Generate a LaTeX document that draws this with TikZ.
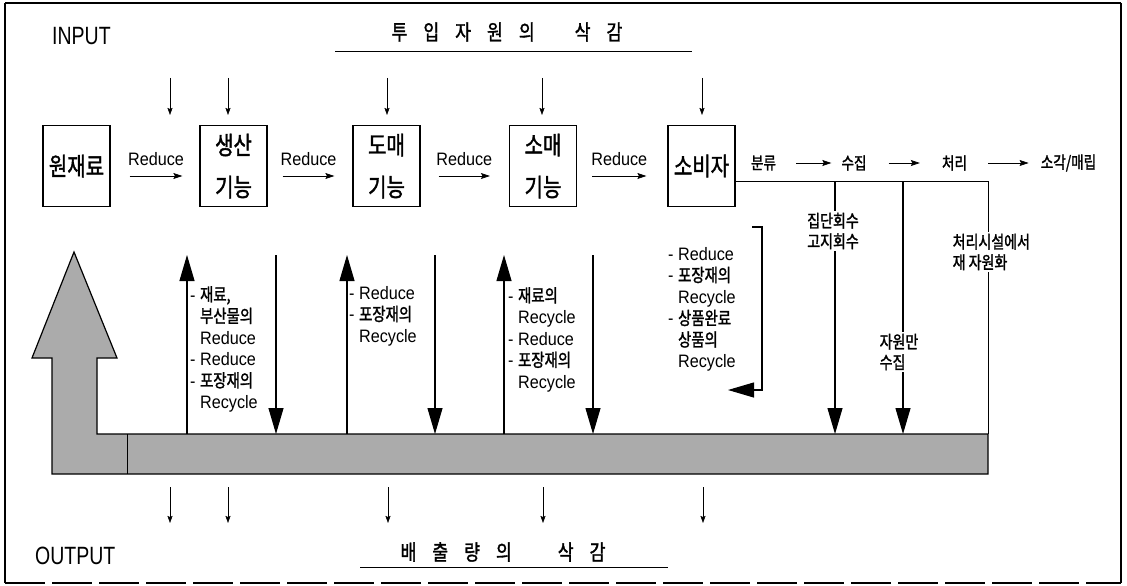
\documentclass[tikz,border=0pt]{standalone}
\usepackage{fontspec}
\setmainfont{Liberation Sans}[FakeStretch=0.9]
\newfontfamily\kr{Noto Sans CJK KR}[FakeStretch=0.8,FakeBold=1.5]
\newfontfamily\narrowfont{Liberation Sans}[FakeStretch=0.78]
\usetikzlibrary{arrows.meta}
\tikzset{
 box/.style={draw, line width=1.2pt, minimum width=67pt, minimum height=81pt, inner sep=0pt, align=center, font=\kr\fontsize{25}{42}\selectfont},
 lbl/.style={inner sep=0pt, anchor=north west, align=left, font=\fontsize{18}{21.5}\selectfont},
 kl/.style={inner sep=1.5pt, font=\kr\fontsize{17.5}{20.5}\selectfont, fill=white},
 flow/.style={inner sep=0pt, font=\kr\fontsize{17}{20}\selectfont},
 redl/.style={inner sep=0pt, font=\fontsize{18}{20}\selectfont},
 sarr/.style={line width=0.6pt, -{Stealth[length=7pt,width=5pt,inset=1pt]}},
 rarr/.style={line width=0.7pt, -{Stealth[length=9pt,width=6pt,inset=1.5pt]}},
 barr/.style={line width=1.1pt, -{Triangle[length=26pt,width=15pt]}},
 ln/.style={line width=1pt},
 big/.style={inner sep=0pt, font=\narrowfont\fontsize{25}{25}\selectfont},
 ttlf/.style={inner sep=0pt, font=\kr\fontsize{21.5}{21.5}\selectfont},
 frame/.style={line width=1.4pt},
}
\begin{document}
\begin{tikzpicture}[x=1pt,y=-1pt]
\useasboundingbox (0,0) rectangle (1127,586);
\fill[white] (0,0) rectangle (1127,586);
% frame
\coordinate (fa) at (5,583); \coordinate (fb) at (5,3);
\coordinate (fc) at (1121,3); \coordinate (fd) at (1121,583);
\draw[frame] (fa) -- (fb);
\draw[frame] (fb) -- (fc);
\draw[frame] (fc) -- (fd);
\draw[frame, dash pattern=on 40pt off 7pt] (fa) -- (fd);

% headings
\node[big, anchor=west] (inp) at (52,36) {INPUT};
\node[big, anchor=west] (outp) at (35,556) {OUTPUT};
\node[ttlf] (ttl) at (507,32) {투\hspace{16pt}입\hspace{16pt}자\hspace{16pt}원\hspace{16pt}의\hspace{40pt}삭\hspace{16pt}감};
\coordinate (tu1) at (335,51); \coordinate (tu2) at (692,51);
\draw[line width=0.9pt] (tu1) -- (tu2);
\node[ttlf] (btl) at (503,552) {배\hspace{16pt}출\hspace{16pt}량\hspace{16pt}의\hspace{46pt}삭\hspace{16pt}감};
\coordinate (bu1) at (360,567); \coordinate (bu2) at (668,567);
\draw[line width=0.9pt] (bu1) -- (bu2);

% band with big arrow
\draw[line width=1.2pt, fill=black!33] (52,474) -- (52,358) -- (32,358) -- (74,252) -- (117,358) -- (97,358) -- (97,434) -- (988,434) -- (988,474) -- cycle;
\coordinate (bs1) at (127,434); \coordinate (bs2) at (127,474);
\draw[line width=1pt] (bs1) -- (bs2);

% boxes
\node[box] (raw) at (76.5,166) {원재료};
\node[box] (prod) at (233.5,166) {생산\\기능};
\node[box] (whole) at (386.5,166) {도매\\기능};
\node[box] (retail) at (543,166) {소매\\기능};
\node[box] (cons) at (701.5,166) {소비자};

% reduce arrows
\draw[rarr] ([shift={(19pt,-10pt)}]raw.east) -- node[redl, above=10pt]{Reduce} ([shift={(-17pt,-10pt)}]prod.west);
\draw[rarr] ([shift={(15pt,-10pt)}]prod.east) -- node[redl, above=10pt]{Reduce} ([shift={(-18pt,-10pt)}]whole.west);
\draw[rarr] ([shift={(18pt,-10pt)}]whole.east) -- node[redl, above=10pt]{Reduce} ([shift={(-19pt,-10pt)}]retail.west);
\draw[rarr] ([shift={(15pt,-10pt)}]retail.east) -- node[redl, above=10pt]{Reduce} ([shift={(-21pt,-10pt)}]cons.west);

% top and bottom small arrows
\foreach \x [count=\i] in {170,228,387,542,702} {
  \coordinate (it\i) at (\x,78); \coordinate (ib\i) at (\x,115);
  \draw[sarr] (it\i) -- (ib\i);
}
\foreach \x [count=\i] in {170,228,388,543,703} {
  \coordinate (ot\i) at (\x,487); \coordinate (ob\i) at (\x,523);
  \draw[sarr] (ot\i) -- (ob\i);
}

% flow after consumer
\coordinate (cr) at (988,181);
\coordinate (bandR) at (988,434);
\draw[ln] ([yshift=-15pt]cons.east) -- (cr);
\draw[ln] (cr) -- (bandR);
\node[flow] (f1) at (763.5,163) {분류};
\node[flow] (f2) at (854,163) {수집};
\node[flow] (f3) at (954.5,163) {처리};
\node[flow] (f4) at (1068.5,163) {소각/매립};
\draw[rarr] ([xshift=20pt]f1.east) -- ([xshift=-10pt]f2.west);
\draw[rarr] ([xshift=22pt]f2.east) -- ([xshift=-22pt]f3.west);
\draw[rarr] ([xshift=21pt]f3.east) -- ([xshift=-12pt]f4.west);

% drops to band
\coordinate (d1t) at (835,181); \coordinate (d1b) at (835,434);
\draw[barr] (d1t) -- (d1b);
\coordinate (d2t) at (903,181); \coordinate (d2b) at (903,434);
\draw[barr] (d2t) -- (d2b);
\node[kl, align=center] (t1) at (833,231) {집단회수\\고지회수};
\node[kl, align=left, anchor=west] (t2) at (878,352) {자원만\\수집};
\node[kl, align=left, anchor=west] (t3) at (951,252) {처리시설에서\\재 자원화};

% big vertical arrows
\foreach \x [count=\i] in {187,347,504} {
  \coordinate (ub\i) at (\x,434); \coordinate (ut\i) at (\x,255);
  \draw[barr] (ub\i) -- (ut\i);
}
\foreach \x [count=\i] in {276,435,593} {
  \coordinate (dt\i) at (\x,255); \coordinate (db\i) at (\x,434);
  \draw[barr] (dt\i) -- (db\i);
}

% bracket arrow
\coordinate (k1) at (752,227); \coordinate (k2) at (762,227);
\coordinate (k3) at (762,390); \coordinate (k4) at (728,390);
\draw[barr] (k1) -- (k2) -- (k3) -- (k4);

% column labels
\node[lbl] (l1) at (190,286) {- {\kr 재료,}\\\hphantom{- }{\kr 부산물의}\\\hphantom{- }Reduce\\- Reduce\\- {\kr 포장재의}\\\hphantom{- }Recycle};
\node[lbl] (l2) at (349,286) {- Reduce\\- {\kr 포장재의}\\\hphantom{- }Recycle};
\node[lbl] (l3) at (508,287) {- {\kr 재료의}\\\hphantom{- }Recycle\\- Reduce\\- {\kr 포장재의}\\\hphantom{- }Recycle};
\node[lbl] (l4) at (668,247) {- Reduce\\- {\kr 포장재의}\\\hphantom{- }Recycle\\- {\kr 상품완료}\\\hphantom{- }{\kr 상품의}\\\hphantom{- }Recycle};
\end{tikzpicture}
\end{document}
